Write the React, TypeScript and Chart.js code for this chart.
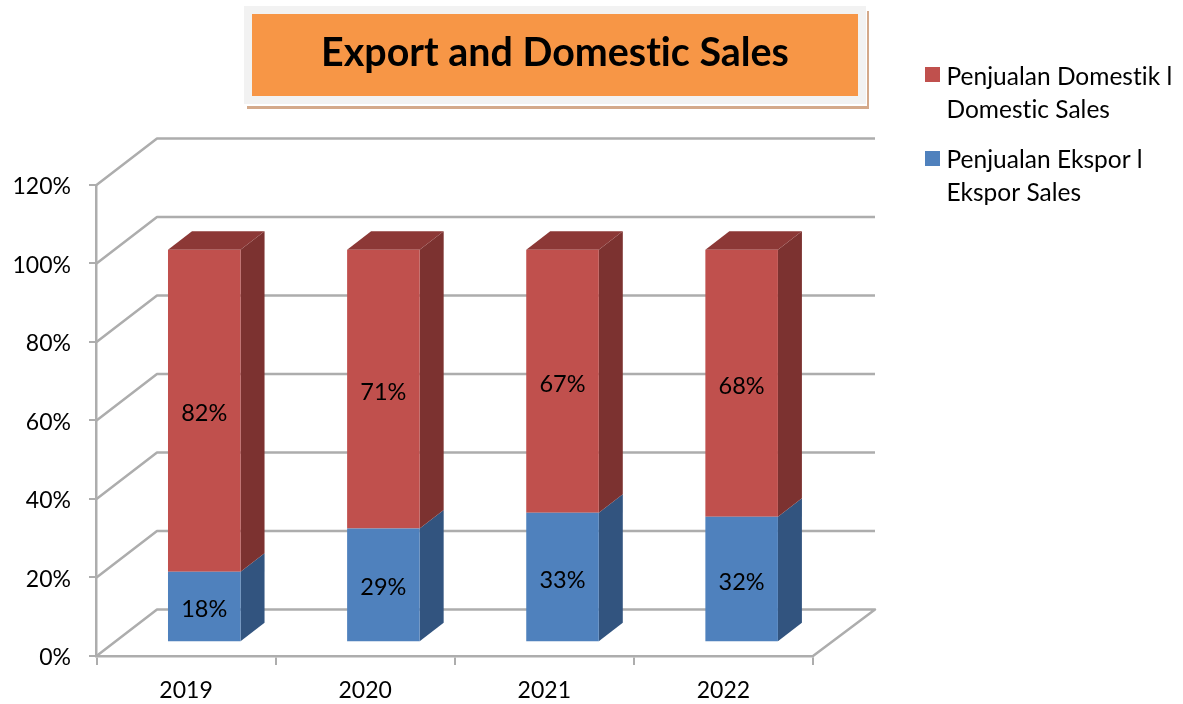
import React, { useEffect, useRef } from "react";
import { Chart, registerables } from "chart.js";

Chart.register(...registerables);

const FONT = "Lato, Carlito, 'Noto Sans', sans-serif";
const years = ["2019", "2020", "2021", "2022"];
const exportSales = [18, 29, 33, 32];
const domesticSales = [82, 71, 67, 68];
const exportLegend = ["Penjualan Ekspor l", "Ekspor Sales"];
const domesticLegend = ["Penjualan Domestik l", "Domestic Sales"];
const titleText = "Export and Domestic Sales";

const RED = "#C0504D";
const RED_SIDE = "#7C3230";
const RED_TOP = "#8C3836";
const BLUE = "#4F81BD";
const BLUE_SIDE = "#32547F";
const GRID = "#ADADAD";

const WALL_DX = 60.5;
const WALL_DY = 46.5;
const BAR_DX = 18.2;
const BAR_DY = 13.7;
const FACE_DX = 24;
const FACE_DY = 18.5;

function poly(ctx: CanvasRenderingContext2D, pts: number[][], fill: string) {
  ctx.beginPath();
  pts.forEach((p, i) => (i ? ctx.lineTo(p[0], p[1]) : ctx.moveTo(p[0], p[1])));
  ctx.closePath();
  ctx.fillStyle = fill;
  ctx.fill();
}

const threeD = {
  id: "threeD",
  afterLayout(chart: any) {
    const l = chart.legend;
    l.left = 902.25; l.right = 1183; l.top = 47.75; l.bottom = 300;
    const t = chart.titleBlock;
    t.left = 252; t.right = 858;
  },
  beforeDraw(chart: any) {
    const c = chart.ctx;
    // a non-zero spacing keeps the browser from forming "ti" ligatures
    c.letterSpacing = "0.01px";
    c.save();
    c.fillStyle = "#D4A98A";
    c.fillRect(247, 11, 622, 98);
    c.fillStyle = "#FFFFFF";
    c.fillRect(244, 6, 623, 100);
    c.fillStyle = "#F2F2F2";
    c.fillRect(244, 6, 622, 98);
    c.fillStyle = "#F79646";
    c.fillRect(252, 14, 606, 82);
    c.restore();
  },
  beforeDatasetsDraw(chart: any) {
    const c = chart.ctx;
    const { left, right } = chart.chartArea;
    const y = chart.scales.y;
    c.save();
    c.strokeStyle = GRID;
    c.lineWidth = 2.5;
    c.lineJoin = "round";
    y.ticks.forEach((t: any) => {
      const py = y.getPixelForValue(t.value);
      c.beginPath();
      c.moveTo(left, py);
      c.lineTo(left + WALL_DX, py - WALL_DY);
      c.lineTo(right + 62, py - WALL_DY);
      if (t.value === 0) c.lineTo(right, py);
      c.stroke();
    });
    const metas = chart.getSortedVisibleDatasetMetas();
    metas.forEach((meta: any, di: number) => {
      meta.data.forEach((bar: any) => {
        const p = bar.getProps(["x", "y", "base", "width"], true);
        const r = p.x + p.width / 2 + BAR_DX;
        const l = p.x - p.width / 2 + BAR_DX;
        const top = p.y - BAR_DY;
        const base = p.base - BAR_DY;
        poly(c, [[r, top], [r + FACE_DX, top - FACE_DY], [r + FACE_DX, base - FACE_DY], [r, base]], di === 0 ? BLUE_SIDE : RED_SIDE);
        if (di === metas.length - 1) {
          poly(c, [[l, top], [l + FACE_DX, top - FACE_DY], [r + FACE_DX, top - FACE_DY], [r, top]], RED_TOP);
        }
      });
    });
    c.restore();
    c.save();
    c.translate(BAR_DX, -BAR_DY);
  },
  afterDatasetsDraw(chart: any) {
    const c = chart.ctx;
    c.restore();
    c.save();
    c.font = `23.5px ${FONT}`;
    c.fillStyle = "#000";
    c.textAlign = "center";
    c.textBaseline = "middle";
    chart.getSortedVisibleDatasetMetas().forEach((meta: any) => {
      meta.data.forEach((bar: any, i: number) => {
        const p = bar.getProps(["x", "y", "base"], true);
        const v = chart.data.datasets[meta.index].data[i];
        c.fillText(`${v}%`, p.x + BAR_DX, (p.y + p.base) / 2 - BAR_DY + 3);
      });
    });
    c.restore();
  },
  afterDraw(chart: any) {
    const c = chart.ctx;
    c.save();
    c.fillStyle = RED;
    c.fillRect(925, 67, 15, 15);
    c.fillStyle = BLUE;
    c.fillRect(925, 151, 15, 15);
    c.restore();
  },
};

export default function App() {
  const ref = useRef<HTMLCanvasElement | null>(null);
  useEffect(() => {
    if (!ref.current) return;
    const chart = new Chart(ref.current, {
      type: "bar",
      data: {
        labels: years,
        datasets: [
          { label: exportLegend.join(" "), data: exportSales, backgroundColor: BLUE, borderWidth: 0, barPercentage: 1, categoryPercentage: 0.405 },
          { label: domesticLegend.join(" "), data: domesticSales, backgroundColor: RED, borderWidth: 0, barPercentage: 1, categoryPercentage: 0.405 },
        ],
      },
      options: {
        responsive: false,
        animation: false,
        layout: { padding: { left: 0, right: 370, top: 0, bottom: 0 } },
        scales: {
          x: {
            stacked: true,
            afterFit: (s: any) => { s.height = 48; },
            grid: { drawOnChartArea: false, drawTicks: true, tickLength: 9, color: GRID, lineWidth: 2, offset: true },
            border: { color: GRID, width: 2.5 },
            ticks: { color: "#000", font: { family: FONT, size: 23 }, padding: 12, maxRotation: 0 },
          },
          y: {
            stacked: true,
            min: 0,
            max: 120,
            afterFit: (s: any) => { s.width = 96.5; },
            grid: { drawOnChartArea: false, drawTicks: true, tickLength: 7.5, color: GRID, lineWidth: 2 },
            border: { color: GRID, width: 2.5 },
            ticks: {
              stepSize: 20,
              color: "#000",
              font: { family: FONT, size: 23 },
              padding: 18,
              labelOffset: 2,
              callback: (v: any) => `${v}%`,
            },
          },
        },
        plugins: {
          tooltip: { enabled: false },
          title: {
            display: true,
            text: titleText,
            color: "#000",
            font: { family: FONT, size: 39.4, weight: "bold", lineHeight: 1.2 },
            padding: { top: 29.4, bottom: 108.3 },
          },
          legend: {
            position: "chartArea",
            align: "start",
            labels: {
              boxWidth: 15,
              boxHeight: 15,
              padding: 17,
              color: "#000",
              font: { family: FONT, size: 24.5, lineHeight: 1.347 },
              generateLabels: () => [
                { text: domesticLegend, fillStyle: "rgba(0,0,0,0)", strokeStyle: "rgba(0,0,0,0)", lineWidth: 0, datasetIndex: 1 },
                { text: exportLegend, fillStyle: "rgba(0,0,0,0)", strokeStyle: "rgba(0,0,0,0)", lineWidth: 0, datasetIndex: 0 },
              ],
            },
          },
        },
      } as any,
      plugins: [threeD],
    });
    return () => chart.destroy();
  }, []);
  return (
    <canvas
      ref={ref}
      width={1183}
      height={704}
      style={{ position: "absolute", left: 0, top: 0, display: "block" }}
    />
  );
}
